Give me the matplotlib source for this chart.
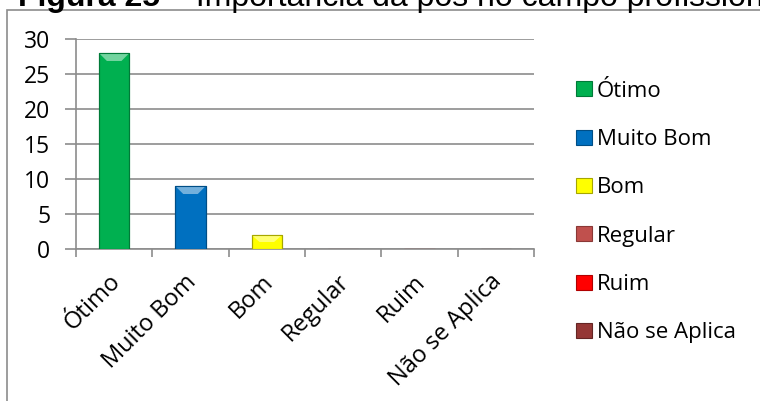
import matplotlib
matplotlib.use("Agg")
import matplotlib.pyplot as plt
from matplotlib.patches import Rectangle, Patch, Polygon
from matplotlib.transforms import ScaledTranslation
import matplotlib.colors as mcolors
import numpy as np

categories = ["Ótimo", "Muito Bom", "Bom", "Regular", "Ruim", "Não se Aplica"]
values = [28, 9, 2, 0, 0, 0]
colors = ["#00B050", "#0070C0", "#FFFF00", "#C0504D", "#FF0000", "#953735"]
edge_colors = ["#007A38", "#004E86", "#A6A600", "#8A3836", "#B00000", "#642524"]
yticks = [0, 5, 10, 15, 20, 25, 30]

plt.rcParams['font.family'] = ['Open Sans', 'DejaVu Sans']

W, H = 760, 401
fig = plt.figure(figsize=(W / 100, H / 100), dpi=100)

# outer frame of the chart object (extends beyond the image)
fig.patches.append(Rectangle((7 / W, -0.1), 1.1, (H - 10) / H + 0.1,
                             transform=fig.transFigure, fill=False,
                             edgecolor="#8C8C8C", linewidth=1.2))

# caption, clipped by the top edge as in the reference
t1 = fig.text(18 / W, (H - 6) / H, "Figura 25", fontsize=23, fontweight="bold",
              family="Liberation Sans", va="baseline", ha="left")
fig.canvas.draw()
bb = t1.get_window_extent()
t2 = fig.text(bb.x1 / W + 9 / W, (H - 6) / H, "– Importância da pós no campo profissional",
              fontsize=23, family="Liberation Sans", va="baseline", ha="left")

ax = fig.add_axes([76 / W, (H - 249) / H, (534 - 76) / W, (249 - 39) / H])
x = np.arange(len(categories))
bars = ax.bar(x, values, width=0.4, color=colors, edgecolor=edge_colors,
              linewidth=0.8, zorder=3)

ax.set_xlim(-0.5, len(categories) - 0.5)
ax.set_ylim(0, 30)

# bevel highlight on top of each bar
px_per_unit = ((249 - 39)) / 30.0
px_per_cat = (534 - 76) / 6.0
for b, c, e in zip(bars, colors, edge_colors):
    h = b.get_height()
    if h <= 0:
        continue
    x0, w = b.get_x(), b.get_width()
    depth_y = min(8 / px_per_unit, h / 2)
    depth_x = min(8 / px_per_cat, w / 3)
    light = tuple(0.55 * np.array(mcolors.to_rgb(c)) + 0.45)
    poly = Polygon([(x0, h), (x0 + w, h), (x0 + w - depth_x, h - depth_y),
                    (x0 + depth_x, h - depth_y)], closed=True,
                   facecolor=light, edgecolor="none", zorder=4)
    ax.add_patch(poly)
    ax.add_patch(Rectangle((x0, 0), w, h, fill=False, edgecolor=e, linewidth=0.8, zorder=5))

ax.set_yticks(yticks)
ax.set_yticklabels([str(v) for v in yticks], fontsize=16.5)
ax.yaxis.grid(True, color="#8C8C8C", linewidth=1.2, zorder=0)
ax.set_axisbelow(True)

ax.set_xticks(np.arange(-0.5, len(categories), 1.0), minor=False)
ax.set_xticklabels([])
ax.set_xticks(x, minor=True)
ax.set_xticklabels(categories, minor=True, rotation=45, ha="right",
                   rotation_mode="anchor", fontsize=17)
ax.tick_params(axis="x", which="minor", length=0, pad=15)
ax.tick_params(axis="x", which="major", length=6, direction="out", color="#8C8C8C", width=1.2)
ax.tick_params(axis="y", length=8, direction="out", color="#8C8C8C", width=1.2, pad=10.5)
shift = ScaledTranslation(-6 / 100, 0, fig.dpi_scale_trans)
for t in ax.get_xticklabels(minor=True):
    t.set_transform(t.get_transform() + shift)

for s in ["top", "right"]:
    ax.spines[s].set_visible(False)
for s in ["left", "bottom"]:
    ax.spines[s].set_color("#8C8C8C")
    ax.spines[s].set_linewidth(1.2)

handles = [Patch(facecolor=c, edgecolor=e, linewidth=0.8) for c, e in zip(colors, edge_colors)]
leg = fig.legend(handles, categories, loc="upper left",
                 bbox_to_anchor=(565 / W, (H - 69.5) / H), frameon=False,
                 fontsize=16, handlelength=0.72, handleheight=0.68,
                 handletextpad=0.22, labelspacing=1.23, borderpad=0)

fig.savefig("out.png", dpi=100)
